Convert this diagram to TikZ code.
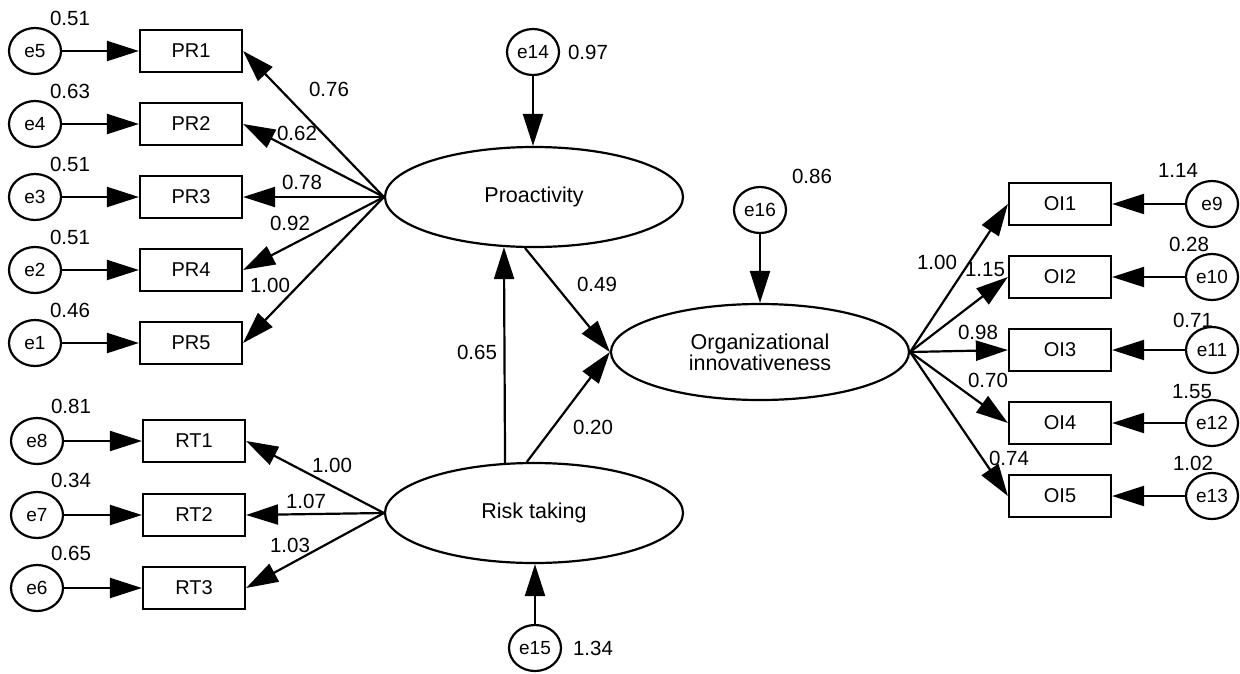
\documentclass[tikz,border=0pt]{standalone}
\usepackage{fontspec}
\setmainfont{Liberation Sans}
\usetikzlibrary{shapes.geometric,arrows.meta}
\tikzset{
  lw/.style={line width=2.2pt},
  obs/.style={draw,lw,rectangle,minimum width=102pt,minimum height=42pt,inner sep=0pt,font=\fontsize{20}{23}\selectfont},
  err/.style={draw,lw,ellipse,minimum width=52pt,minimum height=46pt,inner sep=0pt,font=\fontsize{19}{22}\selectfont},
  lat/.style={draw,lw,ellipse,minimum width=298pt,minimum height=100pt,inner sep=0pt,font=\fontsize{21.5}{24}\selectfont,align=center},
  num/.style={font=\fontsize{20.5}{23}\selectfont,inner sep=0pt},
  arr/.style={lw,-{Triangle[length=32pt,width=20pt]}},
}
\begin{document}
\begin{tikzpicture}[x=1pt,y=-1pt]
\useasboundingbox (0,0) rectangle (1240,673);
% latent variables
\node[lat] (P) at (534,197) {Proactivity};
\node[lat] (R) at (534,513) {Risk taking};
\node[lat,minimum width=298pt,minimum height=96pt] (OI) at (760,352) {Organizational\\[-3pt]innovativeness};
% PR indicators
\foreach \i/\e/\y/\v in {1/5/51/0.51,2/4/124/0.63,3/3/197/0.51,4/2/270/0.51,5/1/343/0.46}{
  \node[obs] (PR\i) at (191,\y) {PR\i};
  \node[err] (e\e) at (35,\y) {e\e};
  \node[num] at (70,\y-33) {\v};
  \draw[arr] (e\e) -- (PR\i);
  \draw[arr] (P.west) -- (PR\i.east);
}
% RT indicators
\foreach \i/\e/\y/\v in {1/8/441/0.81,2/7/515/0.34,3/6/588/0.65}{
  \node[obs] (RT\i) at (194,\y) {RT\i};
  \node[err] (e\e) at (37,\y) {e\e};
  \node[num] at (71,\y-35) {\v};
  \draw[arr] (e\e) -- (RT\i);
  \draw[arr] (R.west) -- (RT\i.east);
}
% OI indicators
\foreach \i/\e/\y/\v in {1/9/204/1.14,2/10/277/0.28,3/11/350/0.71,4/12/423/1.55,5/13/496/1.02}{
  \node[obs] (OI\i) at (1060,\y) {OI\i};
  \node[err] (e\e) at (1212,\y) {e\e};
  \draw[arr] (e\e) -- (OI\i);
  \draw[arr] (OI.east) -- (OI\i.west);
}
\node[num] at (1178,170) {1.14};
\node[num] at (1189,244) {0.28};
\node[num] at (1193,320) {0.71};
\node[num] at (1192,392) {1.55};
\node[num] at (1193,463) {1.02};
% structural disturbances
\node[err] (e14) at (533,52) {e14};
\node[num] at (588,52) {0.97};
\draw[arr] (e14) -- (e14 |- P.north);
\node[err] (e15) at (535,648) {e15};
\node[num] at (593,648) {1.34};
\draw[arr] (e15) -- (e15 |- R.south);
\node[err] (e16) at (760,210) {e16};
\node[num] at (812,176) {0.86};
\draw[arr] (e16) -- (OI.north);
% structural paths
\draw[arr] (R.120.6) -- (P.239.4);
\draw[arr] (P.260) -- (OI.west);
\draw[arr] (R.98) -- (OI.west);
% path labels
\node[num] at (477,352) {0.65};
\node[num] at (597,284) {0.49};
\node[num] at (593,427) {0.20};
\node[num] at (329,89) {0.76};
\node[num] at (297,133) {0.62};
\node[num] at (302,182) {0.78};
\node[num] at (290,223) {0.92};
\node[num] at (270,285) {1.00};
\node[num] at (332,465) {1.00};
\node[num] at (306,501) {1.07};
\node[num] at (290,545) {1.03};
\node[num] at (937,262) {1.00};
\node[num] at (985,270) {1.15};
\node[num] at (978,332) {0.98};
\node[num] at (988,380) {0.70};
\node[num] at (1009,458) {0.74};
\end{tikzpicture}
\end{document}
